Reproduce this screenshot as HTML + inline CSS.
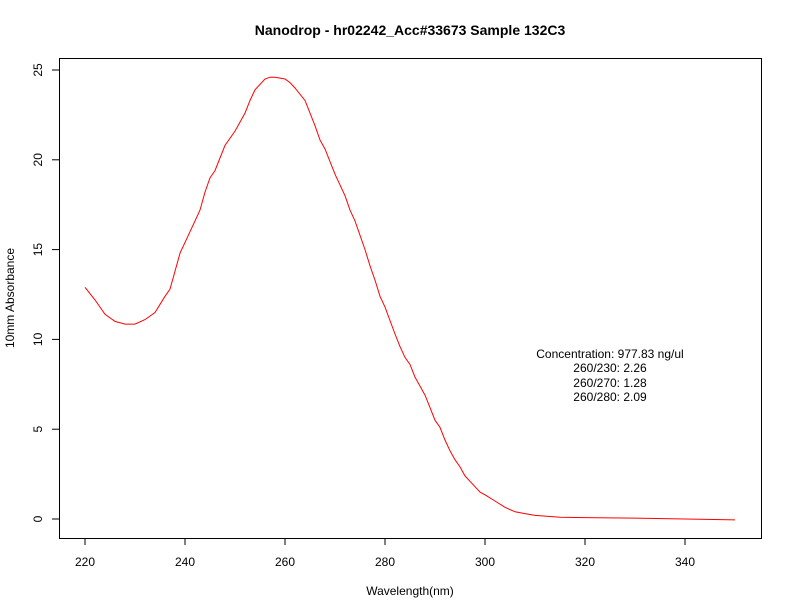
<!DOCTYPE html>
<html><head><meta charset="utf-8"><style>body{margin:0;background:#fff}svg{display:block;font-family:"Liberation Sans",sans-serif}</style></head>
<body>
<svg width="792" height="612" xmlns="http://www.w3.org/2000/svg">
<rect width="792" height="612" fill="#fff"/>
<text x="410" y="35" text-anchor="middle" font-size="14" font-weight="bold">Nanodrop - hr02242_Acc#33673 Sample 132C3</text>
<rect x="59.5" y="58.5" width="702" height="480" fill="none" stroke="#000"/>
<g stroke="#000">
<line x1="85" y1="538" x2="85" y2="545"/><line x1="185" y1="538" x2="185" y2="545"/><line x1="285" y1="538" x2="285" y2="545"/><line x1="385" y1="538" x2="385" y2="545"/><line x1="485" y1="538" x2="485" y2="545"/><line x1="585" y1="538" x2="585" y2="545"/><line x1="685" y1="538" x2="685" y2="545"/>
<line x1="52" y1="519" x2="59" y2="519"/><line x1="52" y1="429.2" x2="59" y2="429.2"/><line x1="52" y1="339.4" x2="59" y2="339.4"/><line x1="52" y1="249.6" x2="59" y2="249.6"/><line x1="52" y1="159.8" x2="59" y2="159.8"/><line x1="52" y1="70" x2="59" y2="70"/>
</g>
<g font-size="12" text-anchor="middle">
<text x="85" y="566">220</text><text x="185" y="566">240</text><text x="285" y="566">260</text><text x="385" y="566">280</text><text x="485" y="566">300</text><text x="585" y="566">320</text><text x="685" y="566">340</text>
<text transform="translate(42,519) rotate(-90)">0</text>
<text transform="translate(42,429.2) rotate(-90)">5</text>
<text transform="translate(42,339.4) rotate(-90)">10</text>
<text transform="translate(42,249.6) rotate(-90)">15</text>
<text transform="translate(42,159.8) rotate(-90)">20</text>
<text transform="translate(42,70) rotate(-90)">25</text>
<text x="410" y="595">Wavelength(nm)</text>
<text transform="translate(14,298) rotate(-90)">10mm Absorbance</text>
<text x="610" y="358">Concentration: 977.83 ng/ul</text>
<text x="610" y="372">260/230: 2.26</text>
<text x="610" y="387">260/270: 1.28</text>
<text x="610" y="401">260/280: 2.09</text>
</g>
<polyline id="c" fill="none" stroke="#f00" stroke-width="1"/>
<script>
var d=[[220,12.9],[222,12.2],[224,11.4],[226,11.0],[228,10.85],[230,10.85],[232,11.1],[234,11.5],[236,12.4],[237,12.8],[238,13.8],[239,14.8],[240,15.4],[242,16.6],[243,17.2],[244,18.2],[245,19.0],[246,19.4],[248,20.8],[250,21.6],[252,22.6],[253,23.3],[254,23.9],[256,24.5],[257,24.6],[258,24.6],[260,24.5],[261,24.3],[262,24.0],[264,23.3],[266,21.9],[267,21.1],[268,20.6],[270,19.2],[271,18.6],[272,18.0],[273,17.2],[274,16.6],[276,15.0],[277,14.1],[278,13.3],[279,12.4],[280,11.8],[282,10.3],[283,9.6],[284,9.0],[285,8.6],[286,7.9],[287,7.4],[288,6.9],[289,6.2],[290,5.5],[291,5.1],[292,4.4],[293,3.8],[294,3.3],[295,2.9],[296,2.4],[297,2.1],[298,1.8],[299,1.5],[300,1.35],[302,1.0],[304,0.65],[306,0.4],[308,0.3],[310,0.2],[315,0.1],[320,0.08],[330,0.05],[340,0.0],[350,-0.05]];
document.getElementById('c').setAttribute('points',d.map(function(p){return (85+(p[0]-220)*5).toFixed(1)+','+(519-p[1]*17.96).toFixed(1)}).join(' '));
</script>
</svg>
</body></html>
